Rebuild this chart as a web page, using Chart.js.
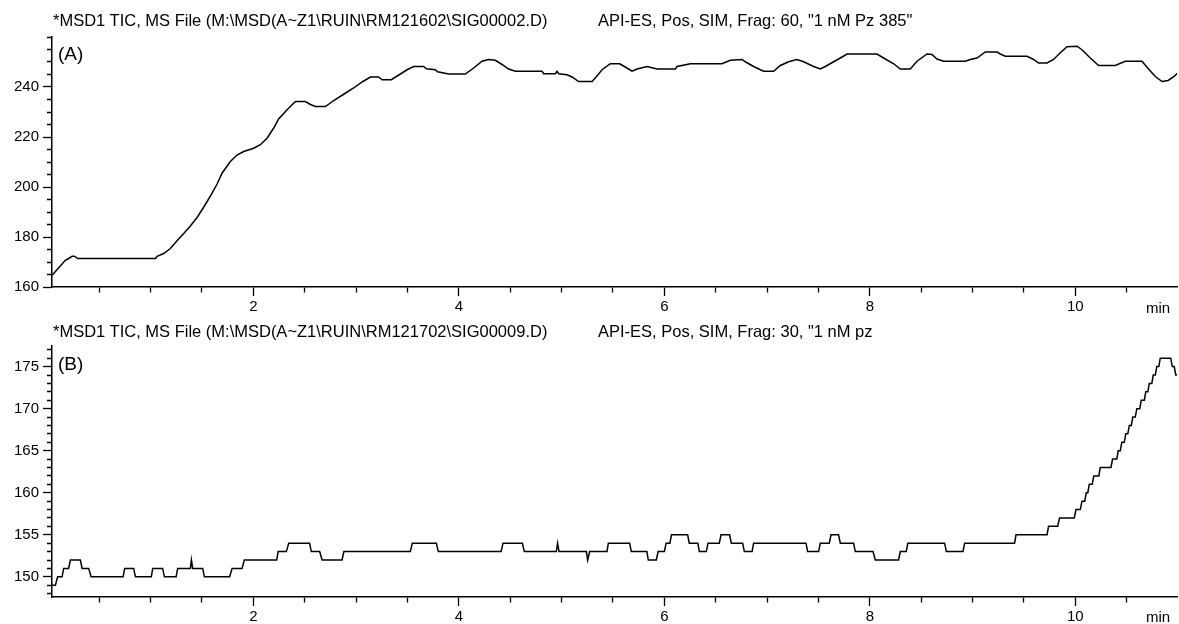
<!DOCTYPE html>
<html>
<head>
<meta charset="utf-8">
<title>MSD1 TIC</title>
<script src="https://cdn.jsdelivr.net/npm/chart.js@4/dist/chart.umd.min.js"></script>
<style>
  html, body { margin: 0; padding: 0; background: #fff; }
  body { width: 1179px; height: 624px; position: relative; overflow: hidden;
         font-family: "Liberation Sans", Arial, sans-serif; color: #000; }
  .pane { position: absolute; left: 0; width: 1179px; }
  .pane canvas { display: block; }
  .txt { position: absolute; white-space: pre; line-height: 1; }
  .head { font-size: 16.5px; }
  .tag { font-size: 19px; }
  .unit { font-size: 15px; }
</style>
</head>
<body>
<div class="pane" style="top:0;height:320px"><canvas id="chartA" width="1179" height="320"></canvas></div>
<div class="pane" style="top:310px;height:314px"><canvas id="chartB" width="1179" height="314"></canvas></div>

<div class="txt head" style="left:53px;top:12px">*MSD1 TIC, MS File (M:\MSD(A~Z1\RUIN\RM121602\SIG00002.D)</div>
<div class="txt head" style="left:598px;top:12px">API-ES, Pos, SIM, Frag: 60, "1 nM Pz 385"</div>
<div class="txt tag" style="left:58px;top:44px">(A)</div>
<div class="txt unit" style="left:1146px;top:300px">min</div>

<div class="txt head" style="left:53px;top:323px">*MSD1 TIC, MS File (M:\MSD(A~Z1\RUIN\RM121702\SIG00009.D)</div>
<div class="txt head" style="left:598px;top:323px">API-ES, Pos, SIM, Frag: 30, "1 nM pz</div>
<div class="txt tag" style="left:58px;top:354px">(B)</div>
<div class="txt unit" style="left:1146px;top:609px">min</div>

<script>
// Run A: total ion current, Frag 60 (retention time in min, abundance)
const runA_time = [
  0.041, 0.170, 0.202, 0.236, 0.258, 0.290, 1.046, 1.063, 1.127, 1.192,
  1.257, 1.322, 1.387, 1.452, 1.516, 1.582, 1.647, 1.695, 1.776, 1.841,
  1.906, 2.003, 2.068, 2.133, 2.198, 2.246, 2.328, 2.409, 2.506, 2.555,
  2.603, 2.701, 2.782, 2.879, 2.976, 3.066, 3.139, 3.219, 3.253, 3.343,
  3.431, 3.496, 3.560, 3.657, 3.684, 3.771, 3.794, 3.901, 4.063, 4.144,
  4.226, 4.290, 4.355, 4.420, 4.485, 4.550, 4.810, 4.825, 4.939, 4.956,
  4.971, 5.053, 5.102, 5.166, 5.296, 5.328, 5.394, 5.474, 5.565, 5.620,
  5.686, 5.734, 5.832, 5.929, 6.107, 6.124, 6.253, 6.561, 6.642, 6.756,
  6.788, 6.869, 6.966, 7.064, 7.129, 7.210, 7.291, 7.356, 7.453, 7.518,
  7.567, 7.648, 7.713, 7.778, 8.070, 8.151, 8.232, 8.297, 8.394, 8.459,
  8.557, 8.605, 8.654, 8.718, 8.929, 8.978, 9.043, 9.124, 9.238, 9.270,
  9.319, 9.530, 9.594, 9.643, 9.725, 9.789, 9.854, 9.919, 10.017, 10.065,
  10.146, 10.227, 10.389, 10.487, 10.649, 10.713, 10.779, 10.844, 10.903, 10.962,
  10.993
];
const runA_abund = [
  164.7, 170.7, 171.4, 172.3, 172.3, 171.4, 171.4, 172.3, 173.4, 175.4,
  178.5, 181.4, 184.4, 187.8, 191.9, 196.4, 201.2, 205.5, 210.2, 212.8,
  214.2, 215.5, 216.9, 219.5, 223.6, 227.2, 230.9, 234.2, 234.2, 233.0,
  232.2, 232.2, 234.6, 237.1, 239.6, 242.2, 244.0, 244.0, 242.9, 242.9,
  245.2, 246.9, 248.2, 248.2, 247.3, 246.9, 246.1, 245.2, 245.2, 247.6,
  250.3, 251.0, 250.7, 249.0, 247.2, 246.3, 246.3, 245.3, 245.3, 246.3,
  245.3, 244.9, 244.0, 242.2, 242.2, 243.6, 246.9, 249.3, 249.3, 248.0,
  246.3, 247.2, 248.2, 247.2, 247.2, 248.2, 249.3, 249.3, 250.7, 251.0,
  250.1, 248.2, 246.3, 246.3, 248.6, 250.1, 251.0, 250.1, 248.2, 247.2,
  248.2, 250.1, 251.6, 253.2, 253.2, 251.2, 249.3, 247.2, 247.2, 250.3,
  253.2, 253.0, 251.2, 250.3, 250.3, 251.0, 251.6, 254.0, 254.0, 253.2,
  252.3, 252.3, 251.0, 249.6, 249.6, 251.0, 253.7, 256.1, 256.3, 254.9,
  251.6, 248.6, 248.6, 250.3, 250.3, 247.2, 244.2, 242.2, 242.6, 244.2,
  245.5
];

// Run B: total ion current, Frag 30, recorded as flat plateaus (start, end, level)
const runB_from = [
  0.039, 0.095, 0.154, 0.219, 0.333, 0.420, 0.747, 0.852, 1.020, 1.134,
  1.263, 1.397, 1.409, 1.523, 1.793, 1.912, 2.241, 2.344, 2.564, 2.669,
  2.881, 3.547, 3.800, 4.430, 4.637, 4.961, 4.975, 5.254, 5.273, 5.455,
  5.679, 5.844, 5.940, 6.018, 6.070, 6.243, 6.341, 6.425, 6.552, 6.652,
  6.779, 6.869, 7.395, 7.518, 7.622, 7.713, 7.859, 8.054, 8.297, 8.370,
  8.745, 8.923, 9.423, 9.740, 9.847, 10.007, 10.065, 10.107, 10.136, 10.180,
  10.243, 10.363, 10.418, 10.453, 10.491, 10.526, 10.560, 10.599, 10.642, 10.686,
  10.720, 10.759, 10.793, 10.827, 10.944, 10.978
];
const runB_to = [
  0.073, 0.138, 0.202, 0.316, 0.397, 0.732, 0.835, 1.007, 1.117, 1.248,
  1.387, 1.397, 1.507, 1.769, 1.890, 2.227, 2.321, 2.547, 2.645, 2.863,
  3.528, 3.781, 4.411, 4.618, 4.949, 4.961, 5.241, 5.254, 5.442, 5.662,
  5.830, 5.922, 6.000, 6.054, 6.227, 6.326, 6.409, 6.535, 6.635, 6.762,
  6.854, 7.379, 7.502, 7.606, 7.696, 7.842, 8.031, 8.280, 8.355, 8.728,
  8.907, 9.409, 9.725, 9.828, 9.990, 10.049, 10.092, 10.122, 10.165, 10.229,
  10.347, 10.404, 10.438, 10.477, 10.511, 10.545, 10.584, 10.628, 10.672, 10.706,
  10.745, 10.779, 10.813, 10.929, 10.963, 10.993
];
const runB_level = [
  149, 150, 151, 152, 151, 150, 151, 150, 151, 150,
  151, 152, 151, 150, 151, 152, 153, 154, 153, 152,
  153, 154, 153, 154, 153, 154, 153, 152, 153, 154,
  153, 152, 153, 154, 155, 154, 153, 154, 155, 154,
  153, 154, 153, 154, 155, 154, 153, 152, 153, 154,
  153, 154, 155, 156, 157, 158, 159, 160, 161, 162,
  163, 164, 165, 166, 167, 168, 169, 170, 171, 172,
  173, 174, 175, 176, 175, 174
];

// Axis ranges and tick spacing
const timeMin = 0.04, timeMax = 10.99;
const timeMinorStep = 0.5, timeLabelStep = 2;
const abundA_min = 160, abundA_max = 260, abundA_minorStep = 5, abundA_labelStep = 20;
const abundB_min = 147.6, abundB_max = 177.45, abundB_minorStep = 1, abundB_labelStep = 5;

const pointsA = runA_time.map((t, i) => ({ x: t, y: runA_abund[i] }));
const pointsB = [];
runB_from.forEach((t, i) => {
  pointsB.push({ x: t, y: runB_level[i] });
  if (runB_to[i] !== t) pointsB.push({ x: runB_to[i], y: runB_level[i] });
});

const tickFont = { family: '"Liberation Sans", Arial, sans-serif', size: 15 };
const onStep = (v, step) => Math.abs(v / step - Math.round(v / step)) < 1e-6;

function buildChart(canvasId, points, yMin, yMax, yMinor, yLabel, topPad, xAxisHeight) {
  return new Chart(document.getElementById(canvasId), {
    type: 'line',
    data: {
      datasets: [{
        data: points,
        borderColor: '#000',
        borderWidth: 1.5,
        pointRadius: 0,
        tension: 0,
        fill: false
      }]
    },
    options: {
      responsive: false,
      animation: false,
      events: [],
      layout: { padding: { top: topPad, right: 2, left: 0, bottom: 0 } },
      plugins: { legend: { display: false }, tooltip: { enabled: false }, title: { display: false } },
      scales: {
        x: {
          type: 'linear',
          min: timeMin,
          max: timeMax,
          border: { display: true, color: '#000', width: 1.5 },
          grid: {
            display: true,
            drawOnChartArea: false,
            drawTicks: true,
            tickLength: 9,
            tickColor: '#000',
            tickWidth: 1.3,
            // minor ticks keep only the part next to the axis line
            tickBorderDash: ctx => onStep(ctx.tick.value, timeLabelStep) ? [] : [5, 30]
          },
          ticks: {
            stepSize: timeMinorStep,
            includeBounds: false,
            autoSkip: false,
            maxRotation: 0,
            padding: 2,
            color: '#000',
            font: tickFont,
            callback: v => onStep(v, timeLabelStep) ? String(Math.round(v)) : ''
          },
          afterFit: s => { s.height = xAxisHeight; }
        },
        y: {
          type: 'linear',
          min: yMin,
          max: yMax,
          border: { display: true, color: '#000', width: 1.5 },
          grid: {
            display: true,
            drawOnChartArea: false,
            drawTicks: true,
            tickLength: 9,
            tickColor: '#000',
            tickWidth: 1.3,
            tickBorderDash: ctx => (onStep(ctx.tick.value, yLabel) && ctx.tick.value < yMax) ? [] : [0, 4, 5, 30]
          },
          ticks: {
            stepSize: yMinor,
            includeBounds: false,
            autoSkip: false,
            padding: 4,
            color: '#000',
            font: tickFont,
            callback: v => (onStep(v, yLabel) && v < yMax) ? String(Math.round(v)) : ''
          },
          afterFit: s => { s.width = 52; }
        }
      }
    }
  });
}

buildChart('chartA', pointsA, abundA_min, abundA_max, abundA_minorStep, abundA_labelStep, 37, 33);
buildChart('chartB', pointsB, abundB_min, abundB_max, abundB_minorStep, abundB_labelStep, 36, 27);
</script>
</body>
</html>
